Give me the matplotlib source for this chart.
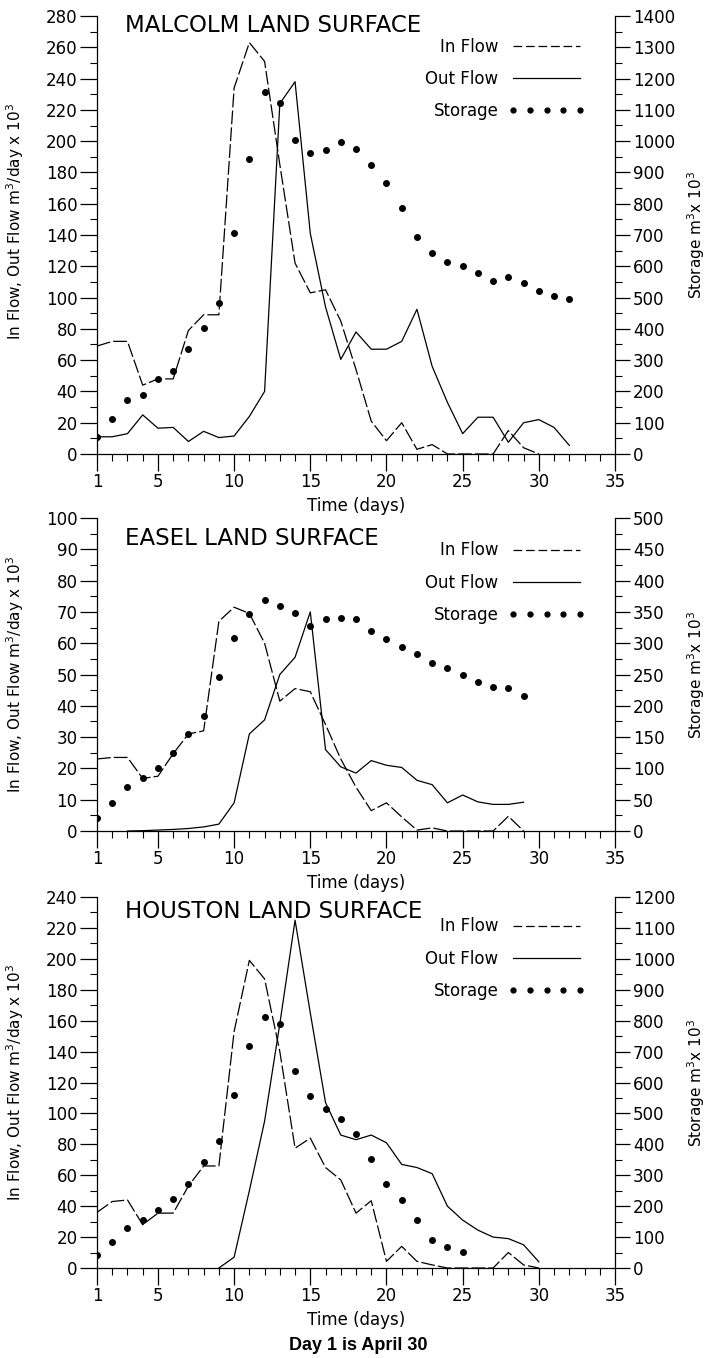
import numpy as np
import matplotlib
matplotlib.use("Agg")
import matplotlib.pyplot as plt
from matplotlib.ticker import MultipleLocator
from matplotlib.lines import Line2D

plt.rcParams['font.family'] = ['DejaVu Sans']

# ---- Malcolm land surface (flows in m3/day x 10^3, storage in m3 x 10^3)
malcolm_in_days = np.arange(1, 31)
malcolm_in = [69, 72, 72, 44, 48, 48, 79, 89, 89, 234, 263, 251, 185, 122, 103,
              105, 85, 54, 21, 8.5, 20, 3, 6, 0, 0, 0, 0, 15, 4, 0]
malcolm_out_days = np.arange(1, 33)
malcolm_out = [11, 11, 13, 25, 16.5, 17, 8, 14.5, 10.5, 11.5, 24, 40, 224, 238, 141,
               94, 60.5, 78, 67, 67, 72, 92.5, 56, 33, 13, 23.5, 23.5, 7.5, 20, 22, 17, 5.5]
malcolm_sto_days = np.arange(1, 33)
malcolm_sto = [55, 112, 173, 189, 239, 266, 336, 404, 484, 706, 944, 1156, 1122, 1003, 962,
               972, 998, 975, 925, 865, 785, 695, 642, 615, 602, 578, 554, 567, 546, 522, 506, 495]

# ---- Easel land surface
easel_in_days = np.arange(1, 30)
easel_in = [23, 23.5, 23.5, 16.8, 17.5, 24.7, 31, 32, 67, 71.5, 69.5, 60, 41.5, 45.5, 44.5,
            34, 23, 14, 6.5, 9, 4.5, 0.3, 1, 0, 0, 0, 0, 4.7, 0]
easel_out_days = np.arange(3, 30)
easel_out = [0, 0.1, 0.3, 0.5, 0.8, 1.3, 2.2, 9, 31, 35.5, 50, 55.5, 70, 26, 20.5,
             18.5, 22.5, 21, 20.3, 16.2, 14.8, 9, 11.5, 9.3, 8.5, 8.5, 9.2]
easel_sto_days = np.arange(1, 30)
easel_sto = [21, 45, 70, 85, 100, 124, 155, 183, 246, 308, 346, 369, 359, 348, 328,
             339, 340, 338, 320, 307, 294, 282, 269, 261, 250, 238, 230, 228, 216]

# ---- Houston land surface
houston_in_days = np.arange(1, 31)
houston_in = [36, 43, 44, 28, 35.5, 35.5, 53, 66, 66, 153, 199, 187, 140, 77.5, 84,
              65, 57, 35.5, 43.5, 4.3, 14, 4.3, 2, 0, 0, 0, 0, 10, 2, 0]
houston_out_days = np.arange(9, 31)
houston_out = [0, 7, 50, 95, 158, 225, 165, 107, 86, 83, 86, 81, 67, 65, 61,
               40, 31, 24.5, 20, 19, 15, 4]
houston_sto_days = np.arange(1, 26)
houston_sto = [43, 85, 130, 154, 188, 223, 273, 342, 410, 560, 718, 812, 790, 638, 557,
               514, 483, 432, 353, 271, 221, 154, 90, 69, 53]

x_ticks = [1, 5, 10, 15, 20, 25, 30, 35]
legend_labels = ['In Flow', 'Out Flow', 'Storage']

fig = plt.figure(figsize=(7.09, 13.58), dpi=100)

IN_DASH = (11, 2.5)


def panel(rect, title, ind, inv, outd, outv, stod, stov, ymax, ystep,
          title_y, legend_y, ylabel_y):
    ax = fig.add_axes(rect)
    ax.plot(ind, inv, color='k', lw=0.9, dashes=IN_DASH)
    ax.plot(outd, outv, color='k', lw=0.9)
    ax2 = ax.twinx()
    ax2.plot(stod, stov, ls='none', marker='o', ms=4, color='k')

    ax.set_xlim(1, 35)
    ax.set_ylim(0, ymax)
    ax2.set_ylim(0, 5 * ymax)
    for a in (ax, ax2):
        a.spines['top'].set_visible(False)
    ax.spines['right'].set_visible(False)
    ax2.spines['left'].set_visible(False)
    ax2.spines['bottom'].set_visible(False)
    for a in (ax, ax2):
        for s in a.spines.values():
            s.set_linewidth(0.9)

    ax.set_xticks(x_ticks)
    ax.xaxis.set_minor_locator(MultipleLocator(1))
    ax.yaxis.set_major_locator(MultipleLocator(ystep))
    ax.yaxis.set_minor_locator(MultipleLocator(ystep / 2))
    ax2.yaxis.set_major_locator(MultipleLocator(5 * ystep))
    ax2.yaxis.set_minor_locator(MultipleLocator(5 * ystep / 2))
    ax.tick_params(which='major', length=12, width=0.9, labelsize=12, pad=2)
    ax.tick_params(which='minor', length=5, width=0.8)
    ax2.tick_params(which='major', length=11, width=0.9, labelsize=12, pad=2)
    ax2.tick_params(which='minor', length=5, width=0.8)

    ax.set_xlabel('Time (days)', fontsize=12, labelpad=4)
    ax.set_ylabel('In Flow, Out Flow m$^3$/day x 10$^3$', fontsize=11)
    ax.yaxis.set_label_coords(-0.138, ylabel_y)
    ax2.set_ylabel('Storage m$^3$x 10$^3$', fontsize=11)
    ax2.yaxis.set_label_coords(1.135, 0.5)

    ax.text(0.054, title_y, title, transform=ax.transAxes, fontsize=16.5,
            ha='left', va='center')

    handles = [Line2D([], [], color='k', lw=0.9, dashes=(7, 3)),
               Line2D([], [], color='k', lw=0.9),
               Line2D([], [], ls='none', marker='o', ms=3.5, color='k')]
    ax2.legend(handles, legend_labels, loc='upper right',
               bbox_to_anchor=(0.942, legend_y), frameon=False,
               markerfirst=False, numpoints=5, handlelength=4.6,
               handletextpad=0.6, labelspacing=0.85, borderpad=0,
               borderaxespad=0, fontsize=12)


W = 709.0
H = 1358.0
L = 97 / W
AW = 518 / W

panel([L, 1 - 454 / H, AW, 438 / H], 'MALCOLM LAND SURFACE',
      malcolm_in_days, malcolm_in, malcolm_out_days, malcolm_out,
      malcolm_sto_days, malcolm_sto, 280, 20, 0.978, 0.95, 0.53)
panel([L, 1 - 831 / H, AW, 313 / H], 'EASEL LAND SURFACE',
      easel_in_days, easel_in, easel_out_days, easel_out,
      easel_sto_days, easel_sto, 100, 10, 0.935, 0.925, 0.5)
panel([L, 1 - 1268 / H, AW, 371 / H], 'HOUSTON LAND SURFACE',
      houston_in_days, houston_in, houston_out_days, houston_out,
      houston_sto_days, houston_sto, 240, 20, 0.962, 0.945, 0.5)

fig.text(358 / W, 1 - 1345 / H, 'Day 1 is April 30', ha='center', va='center',
         fontsize=13, fontweight='bold',
         family=['Liberation Sans Narrow', 'Liberation Sans'])

fig.savefig('out.png', dpi=100)
